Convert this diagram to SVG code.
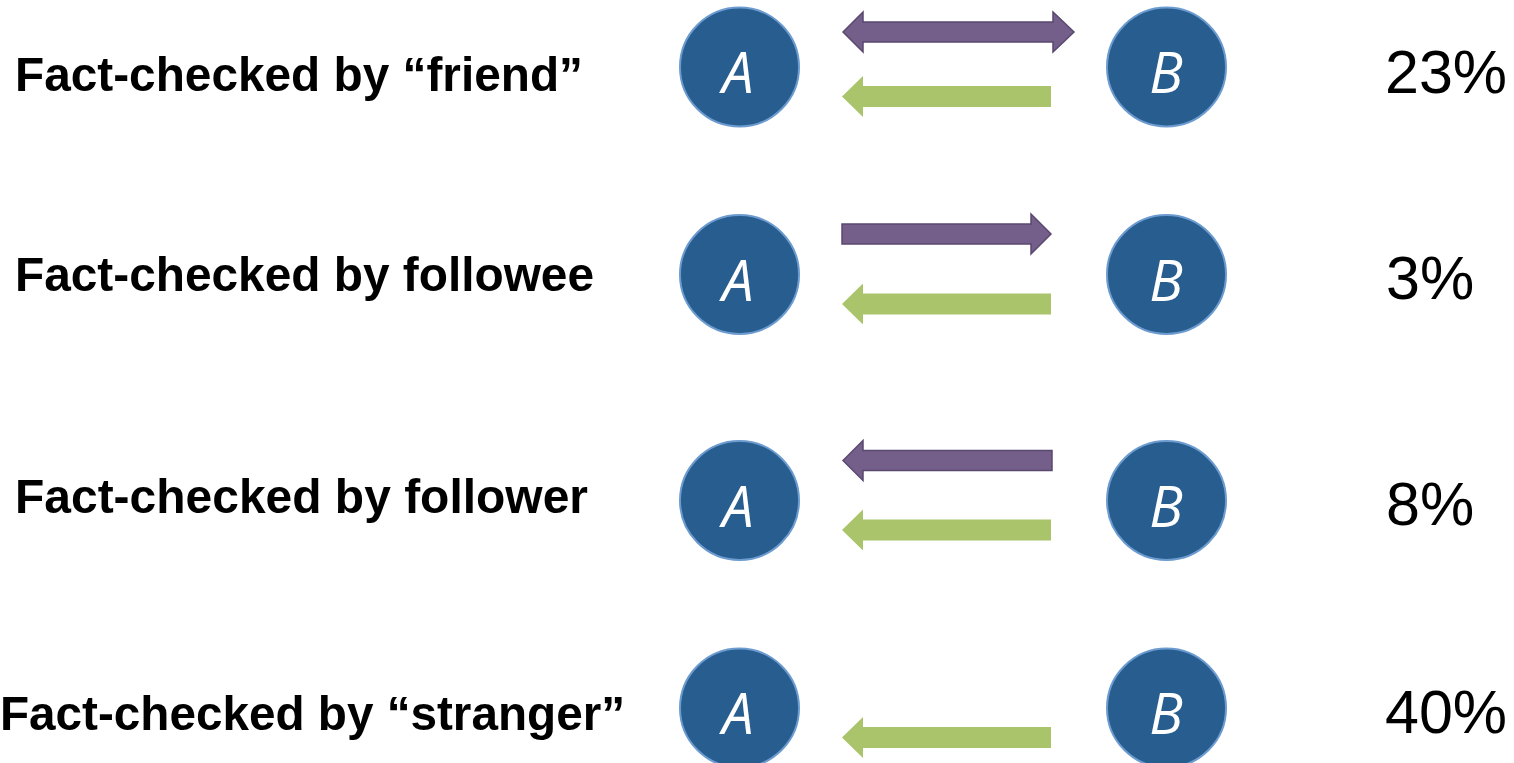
<svg xmlns="http://www.w3.org/2000/svg" width="1514" height="763" viewBox="0 0 1514 763">
  <style>
    .label { font-family: "Liberation Sans", Arial, sans-serif; font-weight: bold; font-size: 49px; fill: #000; }
    .pct { font-family: "Liberation Sans", Arial, sans-serif; font-size: 61px; fill: #000; }
    .node circle { fill: #285D8F; stroke: #6C9BD0; stroke-width: 2; }
    .node text { font-family: "Open Sans", "DejaVu Sans", sans-serif; font-style: italic; font-size: 56px; fill: #fff; text-anchor: middle; }
    .purple { fill: #745E8A; stroke: #5A4870; stroke-width: 1.5; stroke-linejoin: miter; }
    .green { fill: #A9C46B; }
  </style>

  <!-- row labels -->
  <g id="labels">
    <text class="label" x="15" y="91" textLength="568" lengthAdjust="spacingAndGlyphs">Fact-checked by “friend”</text>
    <text class="label" x="15" y="291" textLength="579" lengthAdjust="spacingAndGlyphs">Fact-checked by followee</text>
    <text class="label" x="15" y="513" textLength="573" lengthAdjust="spacingAndGlyphs">Fact-checked by follower</text>
    <text class="label" x="0" y="730" textLength="625" lengthAdjust="spacingAndGlyphs">Fact-checked by “stranger”</text>
  </g>

  <!-- A / B nodes -->
  <g id="node-a1" class="node"><circle cx="739.5" cy="67" r="59.5"/><text x="738" y="93">A</text></g>
  <g id="node-b1" class="node"><circle cx="1166.5" cy="67" r="59.5"/><text x="1166" y="93">B</text></g>
  <g id="node-a2" class="node"><circle cx="739.5" cy="274.5" r="59.5"/><text x="738" y="300.5">A</text></g>
  <g id="node-b2" class="node"><circle cx="1166.5" cy="274.5" r="59.5"/><text x="1166" y="300.5">B</text></g>
  <g id="node-a3" class="node"><circle cx="739.5" cy="500.5" r="59.5"/><text x="738" y="526.5">A</text></g>
  <g id="node-b3" class="node"><circle cx="1166.5" cy="500.5" r="59.5"/><text x="1166" y="526.5">B</text></g>
  <g id="node-a4" class="node"><circle cx="739.5" cy="708" r="59.5"/><text x="738" y="734">A</text></g>
  <g id="node-b4" class="node"><circle cx="1166.5" cy="708" r="59.5"/><text x="1166" y="734">B</text></g>

  <!-- block arrows between A and B -->
  <g id="connectors">
    <!-- row 1: two-way purple, green B to A -->
    <path class="purple" d="M843,32 L863,12 L863,22 L1053,22 L1053,12 L1074,32 L1053,52 L1053,42 L863,42 L863,52 Z"/>
    <path class="green" d="M842,96.5 L863,76 L863,86 L1051,86 L1051,107 L863,107 L863,117 Z"/>
    <!-- row 2: purple A to B, green B to A -->
    <path class="purple" d="M842,224 L1031,224 L1031,214 L1051,234 L1031,254 L1031,244 L842,244 Z"/>
    <path class="green" d="M842,304 L863,283.5 L863,293.5 L1051,293.5 L1051,314.5 L863,314.5 L863,324.5 Z"/>
    <!-- row 3: purple B to A, green B to A -->
    <path class="purple" d="M843,460.5 L863,440.5 L863,450.5 L1052,450.5 L1052,470.5 L863,470.5 L863,480.5 Z"/>
    <path class="green" d="M842,530 L863,509.5 L863,519.5 L1051,519.5 L1051,540.5 L863,540.5 L863,550.5 Z"/>
    <!-- row 4: green B to A only -->
    <path class="green" d="M842,737.5 L863,717 L863,727 L1051,727 L1051,748 L863,748 L863,758 Z"/>
  </g>

  <!-- percentages -->
  <g id="percentages">
    <text class="pct" x="1385" y="93">23%</text>
    <text class="pct" x="1386" y="299">3%</text>
    <text class="pct" x="1386" y="525">8%</text>
    <text class="pct" x="1385" y="733">40%</text>
  </g>
</svg>
